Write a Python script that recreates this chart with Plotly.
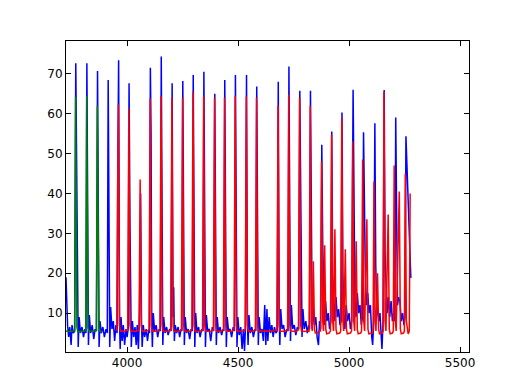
import plotly.graph_objects as go

# ---- data (time, value) ----
blue_points = [
    (3725, 19), (3728, 13), (3732, 7), (3737, 4), (3742, 6.5), (3748, 2), (3752, 7), (3758, 5), (3764, 5.5),
    (3769, 72.6), (3774, 33), (3777, 6), (3780, 1.5), (3784, 9), (3790, 5), (3797, 6.5), (3804, 4), (3810, 6), (3815, 5),
    (3819, 72.6), (3823, 10), (3826, 2), (3830, 9.5), (3836, 5), (3843, 7), (3850, 3.5), (3856, 6), (3862, 5.5),
    (3867, 70.7), (3871, 9), (3874, 1.5), (3878, 8), (3884, 5), (3891, 6.5), (3898, 4), (3905, 6), (3911, 5),
    (3915, 68.4), (3919, 8), (3922, 1.5), (3926, 11.5), (3932, 6), (3938, 8), (3944, 3), (3950, 7), (3955, 5), (3958, 43),
    (3962, 73.4), (3966, 8), (3969, 1), (3973, 9), (3978, 3), (3983, 7), (3989, 2), (3995, 6), (4000, 4), (4005, 6),
    (4009, 67.6), (4013, 33), (4016, 5), (4019, 1.5), (4024, 8), (4030, 4), (4036, 6.5), (4041, 2), (4046, 7), (4051, 1), (4056, 9.5),
    (4061, 40), (4065, 8), (4068, 1.5), (4073, 7), (4079, 4), (4086, 6), (4092, 3), (4098, 6), (4101, 5),
    (4105, 71.5), (4108, 55), (4111, 8), (4114, 1.5), (4118, 10), (4124, 5.5), (4131, 7), (4138, 4), (4144, 6), (4150, 5.5),
    (4154, 74.3), (4158, 8), (4161, 2), (4165, 9), (4171, 5), (4178, 6.5), (4185, 4.5), (4192, 6), (4198, 5.5),
    (4203, 67.6), (4207, 9), (4210, 16.5), (4213, 3), (4217, 7), (4223, 5), (4230, 6.5), (4237, 4), (4243, 6), (4247, 5.5),
    (4251, 68.2), (4255, 8), (4258, 2), (4262, 9), (4268, 5), (4275, 6), (4282, 3.5), (4288, 6), (4294, 5.5),
    (4298, 69.7), (4302, 8), (4305, 1.5), (4309, 10), (4315, 5), (4322, 6.5), (4329, 4), (4336, 6), (4342, 5.5),
    (4346, 70.5), (4350, 9), (4353, 1.5), (4357, 9.5), (4363, 5.5), (4370, 6), (4377, 3), (4384, 6.5), (4390, 5.5),
    (4395, 65), (4399, 8), (4402, 2), (4406, 9), (4412, 5), (4419, 6.5), (4426, 4.5), (4432, 6), (4436, 5.5),
    (4440, 68.4), (4444, 8.5), (4447, 1.5), (4451, 9), (4457, 5.5), (4464, 6), (4471, 4), (4478, 6.5), (4484, 5.5),
    (4488, 69.7), (4492, 8), (4495, 1.5), (4499, 9), (4505, 4.5), (4512, 6.5), (4518, 1), (4524, 6), (4529, 0.5), (4533, 6),
    (4538, 69.7), (4542, 8), (4545, 2), (4549, 9.5), (4555, 5), (4562, 6.5), (4569, 4), (4576, 6), (4580, 5.5),
    (4584, 66.8), (4588, 8), (4591, 2), (4595, 9), (4601, 5), (4608, 6), (4614, 3), (4620, 12), (4625, 2), (4630, 11),
    (4634, 3), (4640, 9), (4646, 5), (4652, 7), (4658, 4), (4664, 6.5), (4670, 5), (4676, 5.5),
    (4681, 68), (4685, 9), (4688, 2), (4692, 11), (4698, 6), (4705, 7), (4712, 4), (4719, 6), (4725, 5.5),
    (4729, 71.8), (4733, 10), (4736, 3), (4740, 12), (4746, 6), (4753, 7), (4760, 4.5), (4767, 6.5), (4773, 6),
    (4778, 65.7), (4782, 38), (4785, 10), (4788, 4), (4792, 11), (4798, 6), (4805, 8), (4812, 5), (4818, 7), (4822, 6),
    (4826, 65.7), (4830, 15), (4834, 6), (4838, 12), (4844, 7), (4850, 9), (4856, 4), (4862, 2), (4867, 8), (4872, 6),
    (4877, 52.2), (4881, 28), (4885, 12), (4889, 7), (4894, 13), (4900, 8), (4906, 10), (4912, 6), (4918, 8),
    (4922, 55.5), (4926, 20), (4930, 12), (4935, 8), (4941, 14), (4947, 9), (4953, 11), (4959, 7), (4964, 8),
    (4968, 60.3), (4972, 20), (4976, 10), (4981, 6), (4987, 12), (4993, 8), (5000, 10), (5006, 6), (5012, 8),
    (5018, 66), (5022, 30), (5026, 14), (5031, 9), (5037, 15), (5043, 10), (5049, 12), (5055, 7), (5060, 9),
    (5065, 55.3), (5069, 35), (5073, 20), (5078, 12), (5084, 15), (5090, 10), (5096, 12), (5102, 4), (5106, 2), (5111, 8),
    (5116, 57.6), (5120, 22), (5124, 12), (5129, 10), (5134, 8), (5139, 10), (5144, 4), (5148, 1), (5153, 8),
    (5158, 65.9), (5162, 25), (5166, 15), (5171, 10), (5177, 14), (5183, 9), (5189, 13), (5195, 8), (5201, 10), (5206, 8),
    (5210, 59), (5214, 25), (5218, 12), (5223, 14), (5229, 13), (5235, 8), (5241, 10), (5247, 7), (5252, 9),
    (5256, 54.3), (5261, 45), (5266, 35), (5272, 25), (5278, 18.8),
]

green_points = [
    (3725, 5.5), (3740, 5.3), (3755, 5.5), (3764, 5.6), (3768, 64.2), (3774, 6.5), (3779, 5.3),
    (3795, 5.5), (3814, 5.6), (3818, 64.5), (3824, 6.5), (3829, 5.4),
    (3845, 5.5), (3862, 5.6), (3866, 62), (3869, 45), (3873, 6.5), (3878, 5.4), (3886, 5.5),
]

red_points = [
    (3950, 5.5), (3954, 6), (3958, 43), (3961, 62.3), (3966, 7), (3970, 5.5), (3990, 5.4),
    (4003, 5.8), (4008, 61.3), (4013, 7), (4017, 5.5), (4040, 5.4),
    (4054, 5.8), (4059, 43.5), (4064, 7), (4068, 5.5), (4085, 5.4),
    (4099, 5.8), (4104, 63.8), (4109, 7), (4113, 5.5), (4135, 5.4),
    (4148, 5.8), (4153, 64.4), (4158, 7), (4162, 5.5), (4185, 5.4),
    (4197, 5.8), (4202, 64), (4207, 7), (4211, 5.5), (4232, 5.4),
    (4245, 5.8), (4250, 64), (4255, 7), (4259, 5.5), (4280, 5.4),
    (4292, 5.8), (4297, 65.5), (4302, 7), (4306, 5.5), (4328, 5.4),
    (4340, 5.8), (4345, 64.3), (4350, 7), (4354, 5.5), (4376, 5.4),
    (4389, 5.8), (4394, 64), (4399, 7), (4403, 5.5), (4422, 5.4),
    (4434, 5.8), (4439, 64), (4444, 7), (4448, 5.5), (4470, 5.4),
    (4482, 5.8), (4487, 64.5), (4492, 7), (4496, 5.5), (4518, 5.4),
    (4532, 5.8), (4537, 64.3), (4542, 7), (4546, 5.5), (4565, 5.4),
    (4578, 5.8), (4583, 64), (4588, 7), (4592, 5.5), (4630, 5.4), (4660, 5.5),
    (4675, 5.8), (4680, 62), (4685, 7), (4689, 5.5), (4710, 5.4),
    (4723, 5.8), (4728, 64.7), (4733, 7), (4737, 5.5), (4760, 5.4),
    (4772, 5.8), (4777, 64), (4782, 7), (4786, 5.5), (4808, 5.4),
    (4820, 5.5), (4825, 62), (4830, 8), (4834, 5.5), (4839, 23), (4844, 6), (4848, 5), (4858, 5), (4866, 5.5),
    (4871, 5.5), (4876, 48), (4881, 8), (4885, 5.5), (4890, 27), (4895, 6), (4899, 4.8), (4910, 5), (4916, 5.5),
    (4921, 54.7), (4926, 8), (4930, 5.5), (4936, 31), (4941, 6), (4945, 4.8), (4958, 5), (4962, 5.5),
    (4967, 58.8), (4972, 8), (4976, 5.5), (4983, 26), (4988, 6), (4992, 4.8), (5006, 5), (5011, 5.5),
    (5016, 53), (5021, 8), (5025, 5.5), (5032, 28), (5037, 6), (5041, 4.8), (5052, 5), (5056, 5.5),
    (5061, 48.5), (5066, 8), (5070, 5.5), (5080, 33.5), (5085, 6), (5089, 4.8), (5104, 5), (5108, 5.5),
    (5112, 43), (5117, 8), (5121, 5.5), (5128, 20), (5133, 6), (5137, 4.8), (5149, 5), (5153, 5.5),
    (5157, 65.5), (5162, 8), (5166, 5.5), (5176, 34.7), (5181, 6), (5185, 4.8), (5195, 5), (5199, 5.5),
    (5203, 47), (5208, 8), (5212, 5.5), (5226, 40.5), (5231, 6), (5235, 4.8), (5245, 5), (5249, 5.5),
    (5253, 45), (5258, 8), (5262, 5.5), (5266, 4.8), (5271, 5.5), (5275, 40),
]

x_ticks = [4000, 4500, 5000, 5500]
y_ticks = [10, 20, 30, 40, 50, 60, 70]
x_range = [3725, 5540]
y_range = [0.25, 78.2]

fig = go.Figure()
for pts, color in [(blue_points, "#0000ff"), (green_points, "#008000"), (red_points, "#ff0000")]:
    xs = [p[0] for p in pts]
    ys = [p[1] for p in pts]
    fig.add_trace(go.Scatter(x=xs, y=ys, mode="lines",
                             line=dict(color=color, width=1.5), hoverinfo="skip"))

axis_common = dict(showgrid=False, zeroline=False, showline=True, linecolor="black",
                   linewidth=1, mirror="ticks", ticks="inside", ticklen=5,
                   tickcolor="black", automargin=False,
                   tickfont=dict(family="DejaVu Sans", size=12, color="black"))
fig.update_xaxes(range=x_range, tickvals=x_ticks, ticktext=[str(v) for v in x_ticks], **axis_common)
fig.update_yaxes(range=y_range, tickvals=y_ticks, ticktext=[str(v) for v in y_ticks], **axis_common)

fig.update_layout(width=520, height=390, showlegend=False,
                  paper_bgcolor="white", plot_bgcolor="white",
                  margin=dict(l=58, r=59, t=33, b=46))
fig.write_html("out.html")
